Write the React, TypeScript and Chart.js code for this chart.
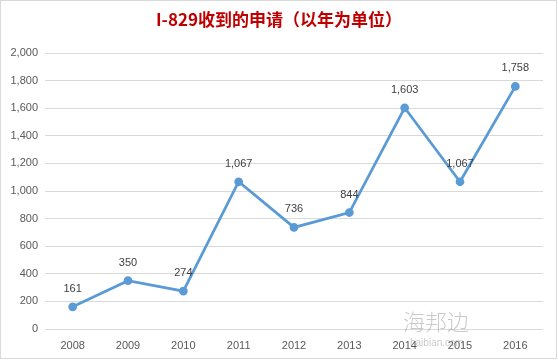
import React, { useEffect, useRef } from "react";
import { Chart, registerables } from "chart.js";

Chart.register(...registerables);

const categories = ["2008", "2009", "2010", "2011", "2012", "2013", "2014", "2015", "2016"];
const petitions = [161, 350, 274, 1067, 736, 844, 1603, 1067, 1758];
const titleText = "I-829收到的申请（以年为单位）";
const yMin = 0;
const yMax = 2000;
const yStep = 200;

const decorPlugin = {
  id: "decor",
  beforeDraw(chart: any) {
    const ctx = chart.ctx;
    ctx.save();
    ctx.fillStyle = "#ffffff";
    ctx.fillRect(0, 0, chart.width, chart.height);
    ctx.restore();
  },
  afterDraw(chart: any) {
    const ctx = chart.ctx;
    ctx.save();
    // border
    ctx.strokeStyle = "#d9d9d9";
    ctx.lineWidth = 1;
    ctx.strokeRect(0.5, 0.5, 556, 358);
    // title
    ctx.fillStyle = "#c00000";
    ctx.font = "bold 17px 'Noto Sans CJK SC', 'Liberation Sans', sans-serif";
    ctx.textAlign = "center";
    ctx.textBaseline = "middle";
    ctx.fillText(titleText, 279, 20);
    // data labels
    const meta = chart.getDatasetMeta(0);
    ctx.fillStyle = "#404040";
    ctx.font = "11px 'Liberation Sans', 'DejaVu Sans', sans-serif";
    meta.data.forEach((pt: any, i: number) => {
      ctx.fillText(petitions[i].toLocaleString("en-US"), pt.x, pt.y - 18);
    });
    // watermark
    ctx.globalAlpha = 0.45;
    ctx.fillStyle = "#8a8a8a";
    ctx.font = "300 22px 'Noto Sans CJK SC', sans-serif";
    ctx.textAlign = "left";
    ctx.fillText("海邦边", 403, 322);
    ctx.font = "10px 'Liberation Sans', sans-serif";
    ctx.fillText("haibian.com", 410, 343);
    ctx.restore();
  },
};

export default function App() {
  const ref = useRef<HTMLCanvasElement | null>(null);
  useEffect(() => {
    if (!ref.current) return;
    const chart = new Chart(ref.current, {
      type: "line",
      data: {
        labels: categories,
        datasets: [
          {
            data: petitions,
            borderColor: "#5b9bd5",
            backgroundColor: "#5b9bd5",
            borderWidth: 2.75,
            pointRadius: 3,
            pointBackgroundColor: "#5b9bd5",
            pointBorderColor: "#5b9bd5",
            tension: 0,
          },
        ],
      },
      options: {
        responsive: false,
        animation: false,
        layout: { padding: { top: 53, left: 5, right: 15, bottom: 8 } },
        plugins: { legend: { display: false }, tooltip: { enabled: false }, title: { display: false } },
        scales: {
          x: {
            offset: true,
            grid: { display: false, drawTicks: false, offset: true },
            border: { display: false },
            ticks: {
              color: "#595959",
              font: { family: "'Liberation Sans', 'DejaVu Sans', sans-serif", size: 11 },
              padding: 10,
              maxRotation: 0,
            },
            afterFit(scale: any) {
              scale.height = 25;
            },
          },
          y: {
            min: yMin,
            max: yMax,
            grid: { color: "#d9d9d9", drawTicks: false, lineWidth: 1 },
            border: { display: false },
            ticks: {
              stepSize: yStep,
              color: "#595959",
              font: { family: "'Liberation Sans', 'DejaVu Sans', sans-serif", size: 11 },
              padding: 7,
              callback: (v: any) => Number(v).toLocaleString("en-US"),
            },
            afterFit(scale: any) {
              scale.width = 40;
            },
          },
        },
      },
      plugins: [decorPlugin],
    });
    return () => chart.destroy();
  }, []);
  return (
    <div style={{ position: "fixed", left: 0, top: 0, width: 558, height: 362, background: "#fff" }}>
      <canvas ref={ref} width={558} height={362} style={{ display: "block" }} />
    </div>
  );
}
